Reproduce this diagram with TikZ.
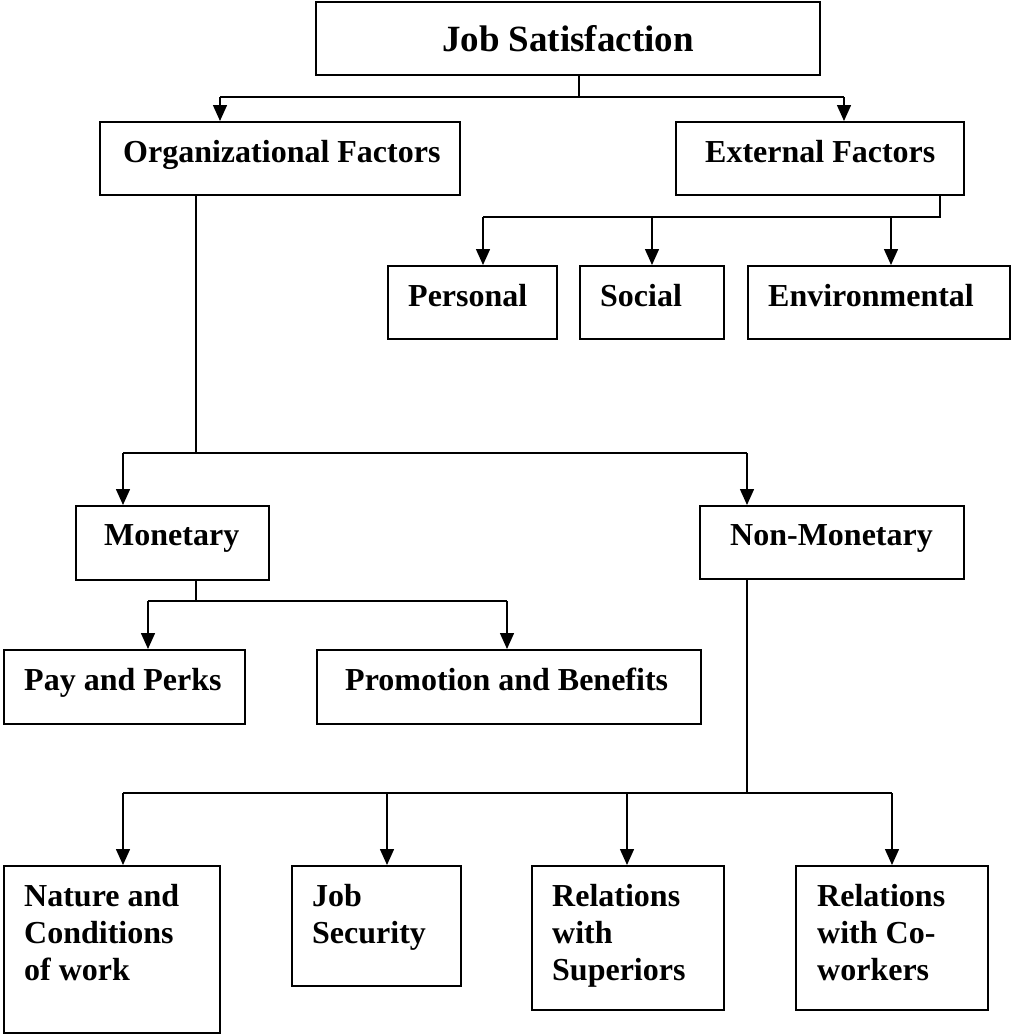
\documentclass[tikz,border=0pt]{standalone}
\usepackage{fontspec}
\setmainfont{Liberation Serif}
\usetikzlibrary{arrows.meta}
\begin{document}
\begin{tikzpicture}[x=1pt,y=-1pt,
  box/.style={draw, line width=2pt, inner sep=0pt, anchor=north west},
  lbl/.style={inner sep=0pt, anchor=north west, align=left, font={\fontsize{32}{37}\selectfont\bfseries}},
  conn/.style={line width=1.5pt},
  arr/.style={line width=1.5pt, -{Triangle[length=16pt,width=14pt]}}]
\useasboundingbox (0,0) rectangle (1011,1034);
% boxes
\node[box, minimum width=504pt, minimum height=73pt, font={\fontsize{37}{42}\selectfont\bfseries}] (js) at (315,1) {Job Satisfaction};
\node[box, minimum width=360pt, minimum height=73pt] (org) at (99,121) {};
\node[box, minimum width=288pt, minimum height=73pt] (ext) at (675,121) {};
\node[box, minimum width=169pt, minimum height=73pt] (pers) at (387,265) {};
\node[box, minimum width=144pt, minimum height=73pt] (soc) at (579,265) {};
\node[box, minimum width=262pt, minimum height=73pt] (env) at (747,265) {};
\node[box, minimum width=193pt, minimum height=74pt] (mon) at (75,505) {};
\node[box, minimum width=264pt, minimum height=73pt] (non) at (699,505) {};
\node[box, minimum width=241pt, minimum height=74pt] (pay) at (3,649) {};
\node[box, minimum width=384pt, minimum height=74pt] (pro) at (316,649) {};
\node[box, minimum width=216pt, minimum height=167pt] (nat) at (3,865) {};
\node[box, minimum width=169pt, minimum height=120pt] (sec) at (291,865) {};
\node[box, minimum width=192pt, minimum height=144pt] (sup) at (531,865) {};
\node[box, minimum width=192pt, minimum height=144pt] (cow) at (795,865) {};
% texts
\node[lbl] (torg) at ([xshift=24pt,yshift=-19pt]org.north west) {Organizational Factors};
\node[lbl] (text) at ([xshift=30pt,yshift=-19pt]ext.north west) {External Factors};
\node[lbl] (tpers) at ([xshift=21pt,yshift=-19pt]pers.north west) {Personal};
\node[lbl] (tsoc) at ([xshift=21pt,yshift=-19pt]soc.north west) {Social};
\node[lbl] (tenv) at ([xshift=21pt,yshift=-19pt]env.north west) {Environmental};
\node[lbl] (tmon) at ([xshift=29pt,yshift=-19pt]mon.north west) {Monetary};
\node[lbl] (tnon) at ([xshift=31pt,yshift=-19pt]non.north west) {Non-Monetary};
\node[lbl] (tpay) at ([xshift=21pt,yshift=-19pt]pay.north west) {Pay and Perks};
\node[lbl] (tpro) at ([xshift=29pt,yshift=-19pt]pro.north west) {Promotion and Benefits};
\node[lbl] (tnat) at ([xshift=21pt,yshift=-19pt]nat.north west) {Nature and\\Conditions\\of work};
\node[lbl] (tsec) at ([xshift=21pt,yshift=-19pt]sec.north west) {Job\\Security};
\node[lbl] (tsup) at ([xshift=21pt,yshift=-19pt]sup.north west) {Relations\\with\\Superiors};
\node[lbl] (tcow) at ([xshift=22pt,yshift=-19pt]cow.north west) {Relations\\with Co-\\workers};
% bus coordinates
\coordinate (jb) at (579,97); \coordinate (j1) at (220,97); \coordinate (j2) at (844,97);
\coordinate (eb) at (940,217); \coordinate (e1) at (483,217); \coordinate (e2) at (652,217); \coordinate (e3) at (891,217);
\coordinate (ob) at (196,453); \coordinate (o1) at (123,453); \coordinate (o2) at (747,453);
\coordinate (mb) at (196,601); \coordinate (m1) at (148,601); \coordinate (m2) at (507,601);
\coordinate (nb) at (747,793); \coordinate (n1) at (123,793); \coordinate (n2) at (387,793); \coordinate (n3) at (627,793); \coordinate (n4) at (892,793);
% connectors
\draw[conn] (js.south -| jb) -- (jb);
\draw[conn] (j1) -- (j2);
\draw[arr] (j1) -- (j1 |- org.north);
\draw[arr] (j2) -- (j2 |- ext.north);
\draw[conn] (ext.south -| eb) -- (eb) -- (e1);
\draw[arr] (e1) -- (e1 |- pers.north);
\draw[arr] (e2) -- (e2 |- soc.north);
\draw[arr] (e3) -- (e3 |- env.north);
\draw[conn] (org.south -| ob) -- (ob);
\draw[conn] (o1) -- (o2);
\draw[arr] (o1) -- (o1 |- mon.north);
\draw[arr] (o2) -- (o2 |- non.north);
\draw[conn] (mon.south -| mb) -- (mb);
\draw[conn] (m1) -- (m2);
\draw[arr] (m1) -- (m1 |- pay.north);
\draw[arr] (m2) -- (m2 |- pro.north);
\draw[conn] (non.south -| nb) -- (nb);
\draw[conn] (n1) -- (n4);
\draw[arr] (n1) -- (n1 |- nat.north);
\draw[arr] (n2) -- (n2 |- sec.north);
\draw[arr] (n3) -- (n3 |- sup.north);
\draw[arr] (n4) -- (n4 |- cow.north);
\end{tikzpicture}
\end{document}
